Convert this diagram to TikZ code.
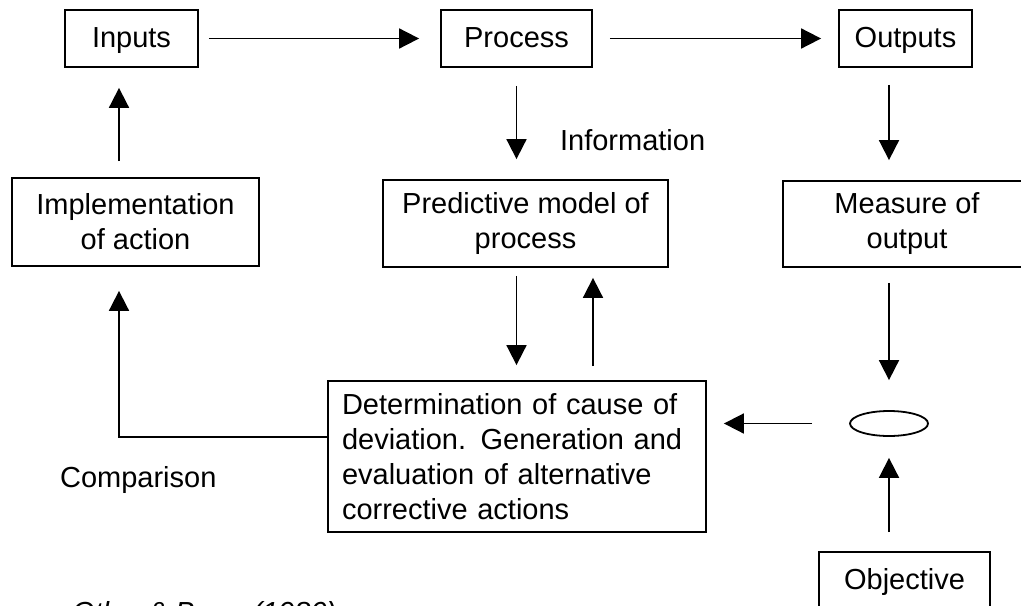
\documentclass[tikz,border=0pt]{standalone}
\usepackage{fontspec}
\setmainfont{Liberation Sans}
\usetikzlibrary{arrows.meta,shapes.geometric}
\begin{document}
\begin{tikzpicture}[x=0.5pt,y=-0.5pt,
  every node/.style={font=\fontsize{14.5pt}{17.5pt}\selectfont},
  box/.style n args={2}{draw,line width=0.9pt,inner sep=0pt,align=center,
    minimum width=#1*0.5pt,minimum height=#2*0.5pt},
  onebox/.style n args={2}{box={#1}{#2},text height=11pt,text depth=2.5pt},
  arr/.style={line width=0.9pt,-{Triangle[length=10pt,width=10pt]}},
  plain/.style={anchor=base west}]
\useasboundingbox (0,0) rectangle (1021,605);
\node[onebox={133}{57}] (in) at (131.5,38.5) {Inputs};
\node[onebox={151}{57}] (proc) at (516.5,38.5) {Process};
\node[onebox={133}{57}] (out) at (905.5,38.5) {Outputs};
\node[box={247}{88}] (impl) at (135.5,222) {Implementation\\of action};
\node[box={285}{87}] (pred) at (525.5,223.5) {Predictive model of\\process};
\node[box={248}{86}] (meas) at (907,224) {Measure of\\output};
\node[draw,line width=0.9pt,align=left,text width=175pt,inner xsep=7pt,inner ysep=0pt,minimum height=75.5pt] (det) at (517,456.5)
  {Determination of cause of\\deviation. Generation and\\evaluation of alternative\\corrective actions};
\node[draw,ellipse,line width=0.9pt,minimum width=39pt,minimum height=12.5pt,inner sep=0pt] (ell) at (889,423.5) {};
\node[onebox={171}{57}] (obj) at (904.5,580.5) {Objective};
\node[plain] (info) at (553,150) {Information};
\node[plain] (cmp) at (53,487) {Comparison};
\node[plain,font=\fontsize{14.5pt}{18pt}\selectfont\itshape] (src) at (65,622) {Otley \& Berry (1980)};
\coordinate (cx) at (119,437);
\draw[arr,shorten <=5pt,shorten >=10.5pt] (in.east) -- (proc.west);
\draw[arr,shorten <=8.5pt,shorten >=8.5pt] (proc.east) -- (out.west);
\draw[arr,shorten <=9pt,shorten >=10pt] (proc.south) -- (proc.south |- pred.north);
\draw[arr,shorten <=8.5pt,shorten >=10pt] (out.south -| ell.center) -- (meas.north -| ell.center);
\draw[arr,shorten <=7.5pt,shorten >=15pt] (meas.south -| ell.center) -- (ell.north);
\draw[arr,shorten <=9.5pt,shorten >=10.5pt] (obj.north -| ell.center) -- (ell.south);
\draw[arr,shorten <=18.5pt,shorten >=8.5pt] (ell.west) -- (det.east |- ell.west);
\draw[arr,shorten <=4pt,shorten >=7.5pt] (pred.south -| proc.south) -- (det.north -| proc.south);
\draw[arr,shorten <=7pt,shorten >=5pt] ([xshift=38pt]det.north) -- ([xshift=38pt]det.north |- pred.south);
\draw[arr,shorten >=12pt] (det.west |- cx) -- (cx) -- (cx |- impl.south);
\draw[arr,shorten <=8pt,shorten >=10pt] (impl.north -| cx) -- (in.south -| cx);
\end{tikzpicture}
\end{document}
